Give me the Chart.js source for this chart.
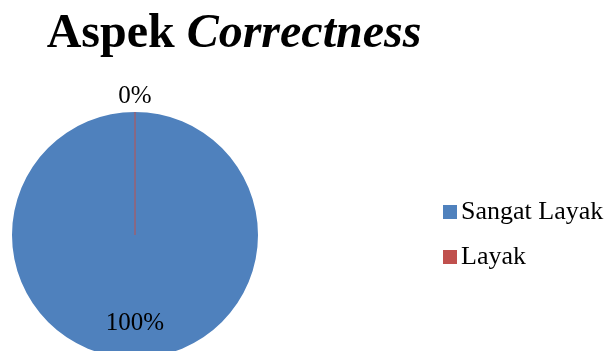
<!DOCTYPE html>
<html lang="id">
<head>
    <meta charset="UTF-8">
    <title>Aspek Correctness</title>
    <script src="https://cdn.jsdelivr.net/npm/chart.js"></script>
    <style>
        html, body {
            margin: 0;
            padding: 0;
            background: #fff;
            overflow: hidden;
            font-family: "Liberation Serif", "Times New Roman", serif;
        }
        #wrap {
            position: relative;
            width: 609px;
            height: 351px;
            overflow: hidden;
        }
        #title {
            position: absolute;
            left: 0;
            width: 468px;
            top: 7px;
            text-align: center;
            font-size: 48px;
            line-height: 1;
            font-weight: bold;
            color: #000;
            white-space: nowrap;
        }
        #chartBox {
            position: absolute;
            left: 0;
            top: 0;
            width: 609px;
            height: 372px;
        }
        #legend {
            position: absolute;
            left: 443px;
            top: 198px;
            font-size: 26px;
            line-height: 1;
            color: #000;
        }
        #legend div {
            height: 45px;
            white-space: nowrap;
        }
        #legend span.box {
            display: inline-block;
            width: 14px;
            height: 14px;
            margin-right: 4px;
        }
    </style>
</head>
<body>
<div id="wrap">
    <div id="chartBox"><canvas id="pieChart" width="609" height="372"></canvas></div>
    <div id="title">Aspek <i>Correctness</i></div>
    <div id="legend"></div>
</div>

<script>
    const categories = ['Sangat Layak', 'Layak'];
    const values = [100, 0];
    const valueLabels = ['100%', '0%'];
    const colors = ['#4F81BD', '#C0504D'];

    // legend, built from the same arrays
    const legendDiv = document.getElementById('legend');
    categories.forEach((name, i) => {
        const row = document.createElement('div');
        const box = document.createElement('span');
        box.className = 'box';
        box.style.background = colors[i];
        row.appendChild(box);
        row.appendChild(document.createTextNode(name));
        legendDiv.appendChild(row);
    });

    // Excel draws a zero slice as a thin line, and writes the percent labels
    const pieLabels = {
        id: 'pieLabels',
        afterDatasetsDraw(chart) {
            const ctx = chart.ctx;
            const arcs = chart.getDatasetMeta(0).data;
            ctx.save();
            arcs.forEach((arc, i) => {
                const r = arc.outerRadius;
                if (values[i] === 0) {
                    ctx.strokeStyle = colors[i];
                    ctx.lineWidth = 1;
                    ctx.beginPath();
                    ctx.moveTo(arc.x, arc.y);
                    ctx.lineTo(arc.x + Math.cos(arc.startAngle) * r, arc.y + Math.sin(arc.startAngle) * r);
                    ctx.stroke();
                }
                const mid = (arc.startAngle + arc.endAngle) / 2;
                const dist = values[i] === 0 ? r + 16 : r * 0.72;
                ctx.fillStyle = '#000';
                ctx.font = '25px "Liberation Serif"';
                ctx.textAlign = 'center';
                ctx.textBaseline = 'middle';
                ctx.fillText(valueLabels[i], arc.x + Math.cos(mid) * dist, arc.y + Math.sin(mid) * dist);
            });
            ctx.restore();
        }
    };

    new Chart(document.getElementById('pieChart'), {
        type: 'pie',
        data: {
            labels: categories,
            datasets: [{
                data: values,
                backgroundColor: colors,
                borderWidth: 0
            }]
        },
        options: {
            responsive: false,
            animation: false,
            layout: {
                padding: { left: 12, right: 351, top: 112, bottom: 14 }
            },
            plugins: {
                legend: { display: false },
                title: { display: false },
                tooltip: { enabled: false }
            }
        },
        plugins: [pieLabels]
    });
</script>
</body>
</html>
